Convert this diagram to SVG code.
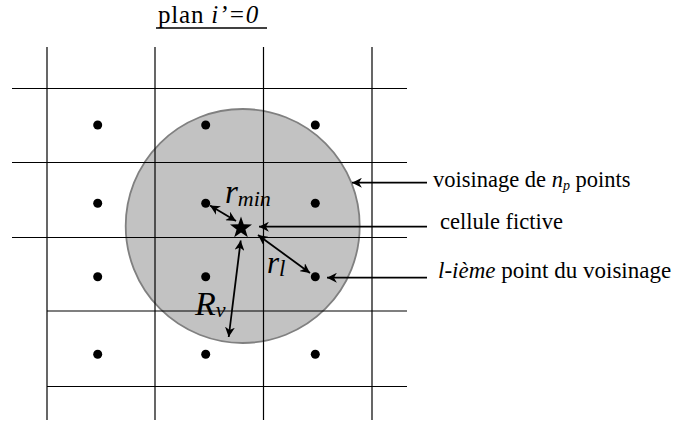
<svg xmlns="http://www.w3.org/2000/svg" width="681" height="423" viewBox="0 0 681 423">
<defs>
<marker id="ah" viewBox="0 0 10 10" refX="10" refY="5" markerWidth="5.5" markerHeight="5.5" orient="auto-start-reverse" markerUnits="strokeWidth">
<path d="M0,0 L10,5 L0,10 L3,5 z" fill="#000"/>
</marker>
<style>
.grid{stroke:#000;stroke-width:1.2;fill:none}
.dot{fill:#000}
.arr{stroke:#000;stroke-width:1.8;fill:none}
.t{font-family:"Liberation Serif",serif;fill:#000}
.i{font-style:italic}
</style>
</defs>
<rect width="681" height="423" fill="#fff"/>
<g id="title">
<text class="t" x="158" y="23" font-size="25" letter-spacing="0.8">plan <tspan class="i">i’=0</tspan></text>
<line x1="156" y1="28" x2="267" y2="28" stroke="#000" stroke-width="1.4"/>
</g>
<g id="voisinage">
<circle cx="242.7" cy="226" r="117" fill="#c2c2c2" stroke="#808080" stroke-width="1.8"/>
</g>
<g id="grid" class="grid">
<line x1="47" y1="47" x2="47" y2="420"/>
<line x1="155" y1="47" x2="155" y2="420"/>
<line x1="263.5" y1="47" x2="263.5" y2="420"/>
<line x1="372" y1="47" x2="372" y2="420"/>
<line x1="12" y1="88.5" x2="407" y2="88.5"/>
<line x1="12" y1="162.5" x2="407" y2="162.5"/>
<line x1="12" y1="237.5" x2="407" y2="237.5"/>
<line x1="47" y1="311" x2="407" y2="311"/>
<line x1="47" y1="386.5" x2="407" y2="386.5"/>
</g>
<g id="points" class="dot">
<circle cx="97.7" cy="125" r="4.5"/><circle cx="205.7" cy="125" r="4.5"/><circle cx="315.3" cy="125" r="4.5"/>
<circle cx="97.7" cy="203.3" r="4.5"/><circle cx="205.7" cy="203.3" r="4.5"/><circle cx="315.3" cy="203.3" r="4.5"/>
<circle cx="97.7" cy="276.7" r="4.5"/><circle cx="205.7" cy="276.7" r="4.5"/><circle cx="315.3" cy="276.7" r="4.5"/>
<circle cx="97.7" cy="354.3" r="4.5"/><circle cx="205.7" cy="354.3" r="4.5"/><circle cx="315.3" cy="354.3" r="4.5"/>
</g>
<g id="cellule">
<polygon points="241,216.5 243.7,224.3 252,224.4 245.4,229.4 247.8,237.3 241,232.6 234.2,237.3 236.6,229.4 230,224.4 238.3,224.3" fill="#000"/>
</g>
<g id="connectors" class="arr">
<line x1="210" y1="205.5" x2="236" y2="221" marker-start="url(#ah)" marker-end="url(#ah)"/>
<line x1="258" y1="235" x2="310" y2="273" marker-start="url(#ah)" marker-end="url(#ah)"/>
<line x1="240.7" y1="240.5" x2="228.7" y2="337" marker-start="url(#ah)" marker-end="url(#ah)"/>
<line x1="427" y1="182.7" x2="352" y2="182.7" marker-end="url(#ah)"/>
<line x1="427" y1="226.7" x2="259" y2="226.7" marker-end="url(#ah)"/>
<line x1="427" y1="277.7" x2="327" y2="277.7" marker-end="url(#ah)"/>
</g>
<g id="labels">
<text class="t i" x="225" y="203" font-size="33">r<tspan font-size="22" dy="3">min</tspan></text>
<text class="t i" x="267" y="273" font-size="31">r<tspan font-size="23" dy="3">l</tspan></text>
<text class="t i" x="195" y="315" font-size="34">R<tspan font-size="22" dy="2">v</tspan></text>
<text class="t" x="433" y="187" font-size="22.5">voisinage de <tspan class="i">n<tspan font-size="14" dy="3">p</tspan></tspan><tspan dy="-3"> points</tspan></text>
<text class="t" x="440" y="229" font-size="22.5">cellule fictive</text>
<text class="t" x="438" y="278" font-size="23"><tspan class="i">l-ième</tspan> point du voisinage</text>
</g>
</svg>
